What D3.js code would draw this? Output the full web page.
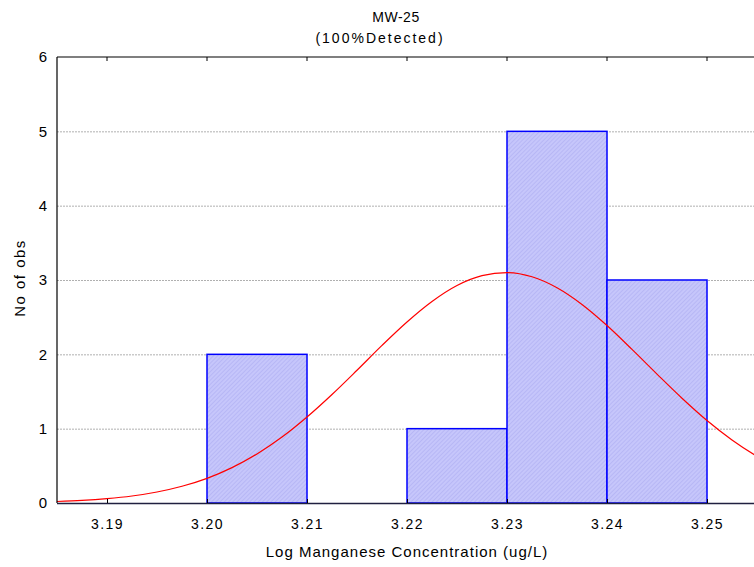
<!DOCTYPE html>
<html><head><meta charset="utf-8">
<script src="https://cdn.jsdelivr.net/npm/d3@7"></script>
<style>body{margin:0;background:#fff;} text{font-family:"Liberation Sans",Arial,sans-serif;fill:#000;}</style>
</head><body>
<svg id="c" width="754" height="567"></svg>
<script>
const titleLines = ["MW-25", "(100%Detected)"];
const xLabel = "Log Manganese Concentration (ug/L)";
const yLabel = "No of obs";
const binStarts = [3.20, 3.21, 3.22, 3.23, 3.24];
const binWidth = 0.01;
const binCounts = [2, 0, 1, 5, 3];
const xTicks = [3.19, 3.20, 3.21, 3.22, 3.23, 3.24, 3.25];
const yTicks = [0, 1, 2, 3, 4, 5, 6];
const curveX = [3.185,3.1875,3.19,3.1925,3.195,3.1975,3.20,3.2025,3.205,3.2075,3.21,3.2125,3.215,3.2175,3.22,3.2225,3.225,3.2275,3.23,3.2325,3.235,3.2375,3.24,3.2425,3.245,3.2475,3.25,3.2525,3.255,3.2575];
const curveY = [0.020,0.034,0.058,0.094,0.148,0.225,0.332,0.476,0.660,0.887,1.157,1.460,1.786,2.120,2.435,2.711,2.926,3.059,3.100,3.044,2.896,2.671,2.387,2.066,1.734,1.410,1.110,0.848,0.628,0.450];

const svg = d3.select("#c");
const L = 57, T = 57, B = 503, R = 757;
const x = d3.scaleLinear().domain([3.185, 3.255]).range([L, R]);
const y = d3.scaleLinear().domain([0, 6]).range([B, T]);

const defs = svg.append("defs");
const pat = defs.append("pattern").attr("id","hatch").attr("patternUnits","userSpaceOnUse")
  .attr("width",3).attr("height",3).attr("patternTransform","rotate(45)");
pat.append("rect").attr("width",3).attr("height",3).attr("fill","#c6c6fb");
pat.append("line").attr("x1",0).attr("y1",0).attr("x2",0).attr("y2",3).attr("stroke","#a9a9ef").attr("stroke-width",1);
defs.append("clipPath").attr("id","clip").append("rect").attr("x",L).attr("y",T).attr("width",R-L).attr("height",B-T);

// gridlines
svg.append("g").selectAll("line").data(yTicks.filter(d=>d>0&&d<6)).join("line")
  .attr("x1",L).attr("x2",R).attr("y1",d=>y(d)+0.5).attr("y2",d=>y(d)+0.5)
  .attr("stroke","#b0b0b0").attr("stroke-width",1).attr("stroke-dasharray","2,1");

// bars
svg.append("g").selectAll("rect").data(binStarts.map((s,i)=>({s,c:binCounts[i]})).filter(d=>d.c>0)).join("rect")
  .attr("x",d=>x(d.s)).attr("width",d=>x(d.s+binWidth)-x(d.s))
  .attr("y",d=>y(d.c)).attr("height",d=>y(0)-y(d.c))
  .attr("fill","url(#hatch)").attr("stroke","#0000ff").attr("stroke-width",1.5);

// curve
svg.append("path").datum(curveX.map((v,i)=>[v,curveY[i]]))
  .attr("clip-path","url(#clip)")
  .attr("d", d3.line().x(d=>x(d[0])).y(d=>y(d[1])).curve(d3.curveMonotoneX))
  .attr("fill","none").attr("stroke","#ff0000").attr("stroke-width",1.2);

// frame
svg.append("line").attr("x1",L).attr("x2",R).attr("y1",T).attr("y2",T).attr("stroke","#000").attr("stroke-width",1.2);
svg.append("line").attr("x1",L).attr("x2",L).attr("y1",T).attr("y2",B).attr("stroke","#000").attr("stroke-width",1.2);
svg.append("line").attr("x1",L).attr("x2",R).attr("y1",B+0.5).attr("y2",B+0.5).attr("stroke","#202040").attr("stroke-width",1.5);

// x ticks
const xa = svg.append("g").attr("transform",`translate(0,${B})`)
  .call(d3.axisBottom(x).tickValues(xTicks).tickFormat(d3.format(".2f")).tickSize(-4).tickPadding(16));
xa.select(".domain").remove();
xa.selectAll("text").attr("font-size",14).attr("letter-spacing","1.5px").attr("font-family","Liberation Sans, Arial, sans-serif");
xa.selectAll("line").attr("stroke","#000");
// top ticks
svg.append("g").selectAll("line").data(xTicks).join("line")
  .attr("x1",d=>x(d)).attr("x2",d=>x(d)).attr("y1",T).attr("y2",T+4).attr("stroke","#000");

// y ticks labels
const ya = svg.append("g").attr("transform",`translate(${L},0)`)
  .call(d3.axisLeft(y).tickValues(yTicks).tickFormat(d3.format("d")).tickSize(0).tickPadding(10));
ya.select(".domain").remove();
ya.selectAll("text").attr("font-size",15).attr("font-family","Liberation Sans, Arial, sans-serif");

// titles
svg.append("text").attr("x",396).attr("y",22).attr("text-anchor","middle").attr("font-size",14).attr("letter-spacing","0.5px").text(titleLines[0]);
svg.append("text").attr("x",380).attr("y",43).attr("text-anchor","middle").attr("font-size",14).attr("letter-spacing","2px").text(titleLines[1]);
svg.append("text").attr("x",407).attr("y",557).attr("text-anchor","middle").attr("font-size",15).attr("letter-spacing","1px").text(xLabel);
svg.append("text").attr("transform","translate(25,278) rotate(-90)").attr("text-anchor","middle").attr("font-size",15).attr("letter-spacing","1.5px").text(yLabel);
</script>
</body></html>
